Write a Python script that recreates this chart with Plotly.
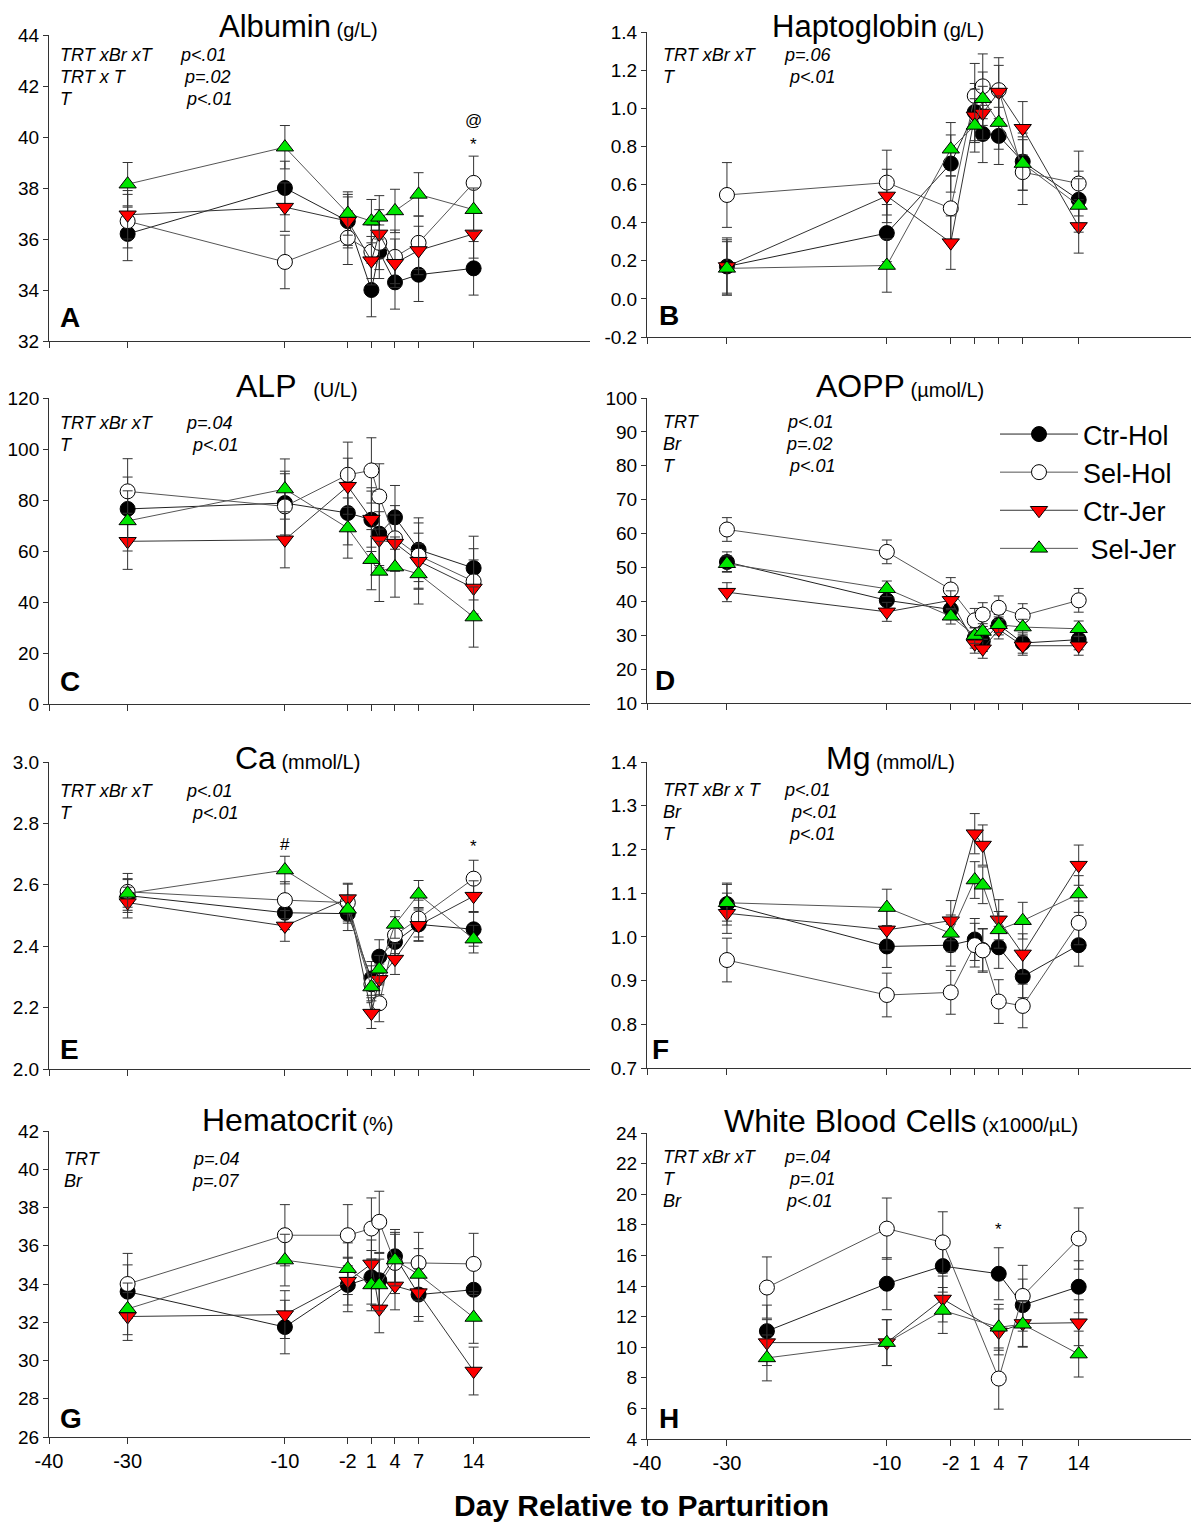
import plotly.graph_objects as go

W, H = 1199, 1525
OFF = 8  # the page body margin shifts the figure by this many pixels

# ---------------- data ----------------
days = [-30, -10, -2, 1, 2, 4, 7, 14]
wbc_days = [-25, -10, -3, 4, 7, 14]
x_tickvals = [-40, -30, -10, -2, 1, 4, 7, 14]
x_ticktext = ["-40", "-30", "-10", "-2", "1", "4", "7", "14"]
series_names = ["Ctr-Hol", "Sel-Hol", "Ctr-Jer", " Sel-Jer"]

alb_ctr_hol = [36.2, 38.0, 36.7, 34.0, 35.5, 34.3, 34.6, 34.85]
alb_sel_hol = [36.7, 35.1, 36.05, 35.5, 35.85, 35.3, 35.85, 38.2]
alb_ctr_jer = [36.95, 37.25, 36.7, 35.15, 36.2, 35.05, 35.55, 36.2]
alb_sel_jer = [38.15, 39.6, 37.0, 36.7, 36.85, 37.1, 37.75, 37.15]
alb_err = [1.05, 1.05, 0.95, 0.85]
alb_yticks = [32, 34, 36, 38, 40, 42, 44]

hap_ctr_hol = [0.17, 0.345, 0.71, 0.98, 0.865, 0.855, 0.72, 0.52]
hap_sel_hol = [0.545, 0.61, 0.475, 1.065, 1.115, 1.095, 0.665, 0.605]
hap_ctr_jer = [0.17, 0.54, 0.295, 0.96, 0.975, 1.085, 0.895, 0.38]
hap_sel_jer = [0.16, 0.175, 0.785, 0.91, 1.05, 0.925, 0.71, 0.49]
hap_err = [0.15, 0.17, 0.14, 0.14]
hap_yticks = [-0.2, 0.0, 0.2, 0.4, 0.6, 0.8, 1.0, 1.2, 1.4]

alp_ctr_hol = [76.5, 78.8, 74.9, 72.3, 66.8, 73.2, 60.5, 53.3]
alp_sel_hol = [83.4, 77.5, 89.9, 91.6, 81.4, 65.0, 58.2, 48.1]
alp_ctr_jer = [63.8, 64.4, 85.4, 72.5, 64.4, 63.1, 56.0, 45.5]
alp_sel_jer = [71.8, 84.3, 69.0, 56.6, 52.0, 53.7, 51.0, 34.1]
alp_err = [12.5, 12.8, 11.0, 11.8]
alp_yticks = [0, 20, 40, 60, 80, 100, 120]

aopp_ctr_hol = [51.6, 40.3, 37.6, 29.2, 28.2, 33.1, 27.7, 28.7]
aopp_sel_hol = [61.2, 54.6, 43.5, 34.4, 36.1, 38.1, 35.8, 40.3]
aopp_ctr_jer = [42.7, 36.9, 40.3, 27.5, 26.0, 31.7, 26.9, 26.9]
aopp_sel_jer = [51.1, 43.7, 35.6, 29.9, 31.1, 33.1, 32.4, 31.9]
aopp_err = [3.0, 3.5, 2.8, 2.3]
aopp_yticks = [10, 20, 30, 40, 50, 60, 70, 80, 90, 100]

ca_ctr_hol = [2.565, 2.509, 2.506, 2.295, 2.366, 2.414, 2.471, 2.455]
ca_sel_hol = [2.577, 2.55, 2.542, 2.276, 2.214, 2.436, 2.49, 2.62]
ca_ctr_jer = [2.542, 2.466, 2.555, 2.182, 2.292, 2.358, 2.468, 2.563]
ca_sel_jer = [2.572, 2.648, 2.52, 2.267, 2.325, 2.471, 2.569, 2.423]
ca_err = [0.055, 0.06, 0.05, 0.045]
ca_yticks = [2.0, 2.2, 2.4, 2.6, 2.8, 3.0]

mg_ctr_hol = [1.075, 0.978, 0.981, 0.994, 0.97, 0.976, 0.909, 0.981]
mg_sel_hol = [0.947, 0.867, 0.873, 0.981, 0.969, 0.852, 0.842, 1.032]
mg_ctr_jer = [1.054, 1.016, 1.037, 1.236, 1.21, 1.039, 0.961, 1.164]
mg_sel_jer = [1.078, 1.067, 1.008, 1.13, 1.118, 1.016, 1.037, 1.098]
mg_err = [0.048, 0.05, 0.046, 0.042]
mg_yticks = [0.7, 0.8, 0.9, 1.0, 1.1, 1.2, 1.3, 1.4]

hct_ctr_hol = [33.6, 31.75, 33.95, 34.35, 34.2, 35.45, 33.45, 33.7]
hct_sel_hol = [34.0, 36.55, 36.55, 36.9, 37.25, 35.1, 35.1, 35.05]
hct_ctr_jer = [32.3, 32.4, 34.15, 35.05, 32.7, 33.9, 33.55, 29.45]
hct_sel_jer = [32.7, 35.25, 34.8, 33.95, 33.95, 35.25, 34.5, 32.25]
hct_err = [1.4, 1.6, 1.25, 1.35]
hct_yticks = [26, 28, 30, 32, 34, 36, 38, 40, 42]

wbc_ctr_hol = [11.05, 14.15, 15.3, 14.8, 12.75, 13.95]
wbc_sel_hol = [13.9, 17.75, 16.85, 7.95, 13.35, 17.1]
wbc_ctr_jer = [10.3, 10.3, 13.15, 11.0, 11.55, 11.6]
wbc_sel_jer = [9.3, 10.3, 12.4, 11.3, 11.5, 9.55]
wbc_err = [1.7, 2.0, 1.5, 1.5]
wbc_yticks = [4, 6, 8, 10, 12, 14, 16, 18, 20, 22, 24]

# ---------------- styles ----------------
FONT = "Liberation Sans, Arial, sans-serif"
marker_styles = [
    dict(symbol="circle", color="black", size=15, line=dict(color="black", width=1)),
    dict(symbol="circle", color="white", size=15, line=dict(color="black", width=1)),
    dict(symbol="triangle-down", color="#ff0000", size=15, line=dict(color="black", width=1)),
    dict(symbol="triangle-up", color="#00e600", size=15, line=dict(color="black", width=1)),
]
line_colors = ["#222222", "#555555", "#333333", "#555555"]

LX = (49, 590)
RX = (647, 1197)


def fmt_ticks(vals, dec):
    return [f"{v:.{dec}f}" for v in vals]


# ty=None -> title pinned to the top edge of the figure
panels = [
    dict(x=days, ys=[alb_ctr_hol, alb_sel_hol, alb_ctr_jer, alb_sel_jer], err=alb_err,
         title="Albumin", unit="(g/L)", tx=298, ty=None, yt=alb_yticks, dec=0,
         px=LX, py=(35, 341), letter="A", lp=(68, 317),
         stats=[("TRT xBr xT", "p<.01", 178), ("TRT x T", "p=.02", 182), ("T", "p<.01", 184)],
         sx=58, sy=55, bottom=False),
    dict(x=days, ys=[hap_ctr_hol, hap_sel_hol, hap_ctr_jer, hap_sel_jer], err=hap_err,
         title="Haptoglobin", unit="(g/L)", tx=878, ty=None, yt=hap_yticks, dec=1,
         px=RX, py=(32, 337), letter="B", lp=(667, 316),
         stats=[("TRT xBr xT", "p=.06", 782), ("T", "p<.01", 787)],
         sx=661, sy=55, bottom=False),
    dict(x=days, ys=[alp_ctr_hol, alp_sel_hol, alp_ctr_jer, alp_sel_jer], err=alp_err,
         title="ALP", unit="&nbsp;&nbsp;(U/L)", tx=297, ty=386, yt=alp_yticks, dec=0,
         px=LX, py=(398, 704), letter="C", lp=(68, 681),
         stats=[("TRT xBr xT", "p=.04", 184), ("T", "p<.01", 190)],
         sx=58, sy=423, bottom=False),
    dict(x=days, ys=[aopp_ctr_hol, aopp_sel_hol, aopp_ctr_jer, aopp_sel_jer], err=aopp_err,
         title="AOPP", unit="(µmol/L)", tx=900, ty=386, yt=aopp_yticks, dec=0,
         px=RX, py=(398, 703), letter="D", lp=(663, 680),
         stats=[("TRT", "p<.01", 785), ("Br", "p=.02", 784), ("T", "p<.01", 787)],
         sx=661, sy=422, bottom=False),
    dict(x=days, ys=[ca_ctr_hol, ca_sel_hol, ca_ctr_jer, ca_sel_jer], err=ca_err,
         title="Ca", unit="(mmol/L)", tx=297, ty=758, yt=ca_yticks, dec=1,
         px=LX, py=(762, 1069), letter="E", lp=(68, 1049),
         stats=[("TRT xBr xT", "p<.01", 184), ("T", "p<.01", 190)],
         sx=58, sy=791, bottom=False),
    dict(x=days, ys=[mg_ctr_hol, mg_sel_hol, mg_ctr_jer, mg_sel_jer], err=mg_err,
         title="Mg", unit="(mmol/L)", tx=890, ty=758, yt=mg_yticks, dec=1,
         px=RX, py=(762, 1068), letter="F", lp=(660, 1049),
         stats=[("TRT xBr x T", "p<.01", 782), ("Br", "p<.01", 789), ("T", "p<.01", 787)],
         sx=661, sy=790, bottom=False),
    dict(x=days, ys=[hct_ctr_hol, hct_sel_hol, hct_ctr_jer, hct_sel_jer], err=hct_err,
         title="Hematocrit", unit="(%)", tx=297, ty=1120, yt=hct_yticks, dec=0,
         px=LX, py=(1131, 1437), letter="G", lp=(68, 1418),
         stats=[("TRT", "p=.04", 191), ("Br", "p=.07", 190)],
         sx=62, sy=1159, bottom=True),
    dict(x=wbc_days, ys=[wbc_ctr_hol, wbc_sel_hol, wbc_ctr_jer, wbc_sel_jer], err=wbc_err,
         title="White Blood Cells", unit="(x1000/µL)", tx=901, ty=1121, yt=wbc_yticks, dec=0,
         px=RX, py=(1133, 1439), letter="H", lp=(667, 1418),
         stats=[("TRT xBr xT", "p=.04", 782), ("T", "p=.01", 787), ("Br", "p<.01", 784)],
         sx=661, sy=1157, bottom=True),
]

# special markers: (panel index, x, y, text)
marks = [
    (0, 14, 40.65, "@"), (0, 14, 39.7, "*"),
    (4, -10, 2.73, "#"), (4, 14, 2.726, "*"),
    (7, 4, 17.7, "*"),
]

fig = go.Figure()
annotations = []
layout = {}


def fx(p):
    return (p - OFF) / W


def fy(p):
    return 1 - (p - OFF) / H


for i, pn in enumerate(panels):
    k = i + 1
    xa = "x" if k == 1 else f"x{k}"
    ya = "y" if k == 1 else f"y{k}"
    for s in range(4):
        fig.add_trace(go.Scatter(
            x=pn["x"], y=pn["ys"][s], mode="lines+markers",
            name=series_names[s], legendgroup=series_names[s],
            showlegend=(i == 0),
            line=dict(color=line_colors[s], width=1),
            marker=marker_styles[s],
            error_y=dict(type="constant", value=pn["err"][s], color="#333333",
                         thickness=1, width=5),
            xaxis=xa, yaxis=ya, cliponaxis=False,
        ))
    yt = pn["yt"]
    layout[f"xaxis{'' if k == 1 else k}"] = dict(
        domain=[fx(pn["px"][0]), fx(pn["px"][1])], range=[-40, 28.8],
        anchor=ya, showline=True, linecolor="#333333", linewidth=1,
        ticks="outside", ticklen=6, tickcolor="#333333",
        tickmode="array", tickvals=x_tickvals, ticktext=x_ticktext,
        showticklabels=pn["bottom"], automargin=False,
        showgrid=False, zeroline=False,
        tickfont=dict(family=FONT, size=20, color="black"),
    )
    layout[f"yaxis{'' if k == 1 else k}"] = dict(
        domain=[fy(pn["py"][1]), fy(pn["py"][0])], range=[yt[0], yt[-1]],
        anchor=xa, showline=True, linecolor="#333333", linewidth=1,
        ticks="outside", ticklen=5, tickcolor="#333333",
        tickmode="array", tickvals=yt, ticktext=fmt_ticks(yt, pn["dec"]),
        automargin=False, showgrid=False, zeroline=False,
        tickfont=dict(family=FONT, size=19, color="black"),
    )
    # title
    title_text = f"{pn['title']}<span style='font-size:20px'> {pn['unit']}</span>"
    if pn["ty"] is None:
        annotations.append(dict(
            text=title_text, x=fx(pn["tx"]), y=1.0, xref="paper", yref="paper",
            xanchor="center", yanchor="top", showarrow=False, borderpad=0,
            font=dict(family=FONT, size=31, color="black")))
    else:
        annotations.append(dict(
            text=title_text, x=fx(pn["tx"]), y=fy(pn["ty"]), xref="paper", yref="paper",
            xanchor="center", yanchor="middle", showarrow=False,
            font=dict(family=FONT, size=32, color="black")))
    # panel letter
    annotations.append(dict(
        text=f"<b>{pn['letter']}</b>", x=fx(pn["lp"][0] - 10), y=fy(pn["lp"][1]),
        xref="paper", yref="paper", xanchor="left", yanchor="middle", showarrow=False,
        font=dict(family=FONT, size=28, color="black")))
    # stats
    for j, (lab, pv, pxv) in enumerate(pn["stats"]):
        yy = pn["sy"] + j * 22
        annotations.append(dict(
            text=f"<i>{lab}</i>", x=fx(pn["sx"]), y=fy(yy), xref="paper", yref="paper",
            xanchor="left", yanchor="middle", showarrow=False,
            font=dict(family=FONT, size=18, color="black")))
        annotations.append(dict(
            text=f"<i>{pv}</i>", x=fx(pxv), y=fy(yy), xref="paper", yref="paper",
            xanchor="left", yanchor="middle", showarrow=False,
            font=dict(family=FONT, size=18, color="black")))

for (pi, xv, yv, t) in marks:
    k = pi + 1
    annotations.append(dict(
        text=t, x=xv, y=yv, xref="x" if k == 1 else f"x{k}", yref="y" if k == 1 else f"y{k}",
        xanchor="center", yanchor="middle", showarrow=False,
        font=dict(family=FONT, size=17, color="black")))

annotations.append(dict(
    text="<b>Day Relative to Parturition</b>", x=fx(641), y=fy(1505),
    xref="paper", yref="paper", xanchor="center", yanchor="middle", showarrow=False,
    font=dict(family=FONT, size=30, color="black")))

fig.update_layout(
    width=W, height=H, margin=dict(l=0, r=0, t=0, b=0, autoexpand=False),
    paper_bgcolor="white", plot_bgcolor="white",
    font=dict(family=FONT, color="black"),
    annotations=annotations,
    legend=dict(x=fx(995), y=fy(410), xanchor="left", yanchor="top",
                font=dict(family=FONT, size=27, color="black"),
                bgcolor="rgba(0,0,0,0)", tracegroupgap=0, itemwidth=78),
    **layout,
)

fig.write_html("out.html")
